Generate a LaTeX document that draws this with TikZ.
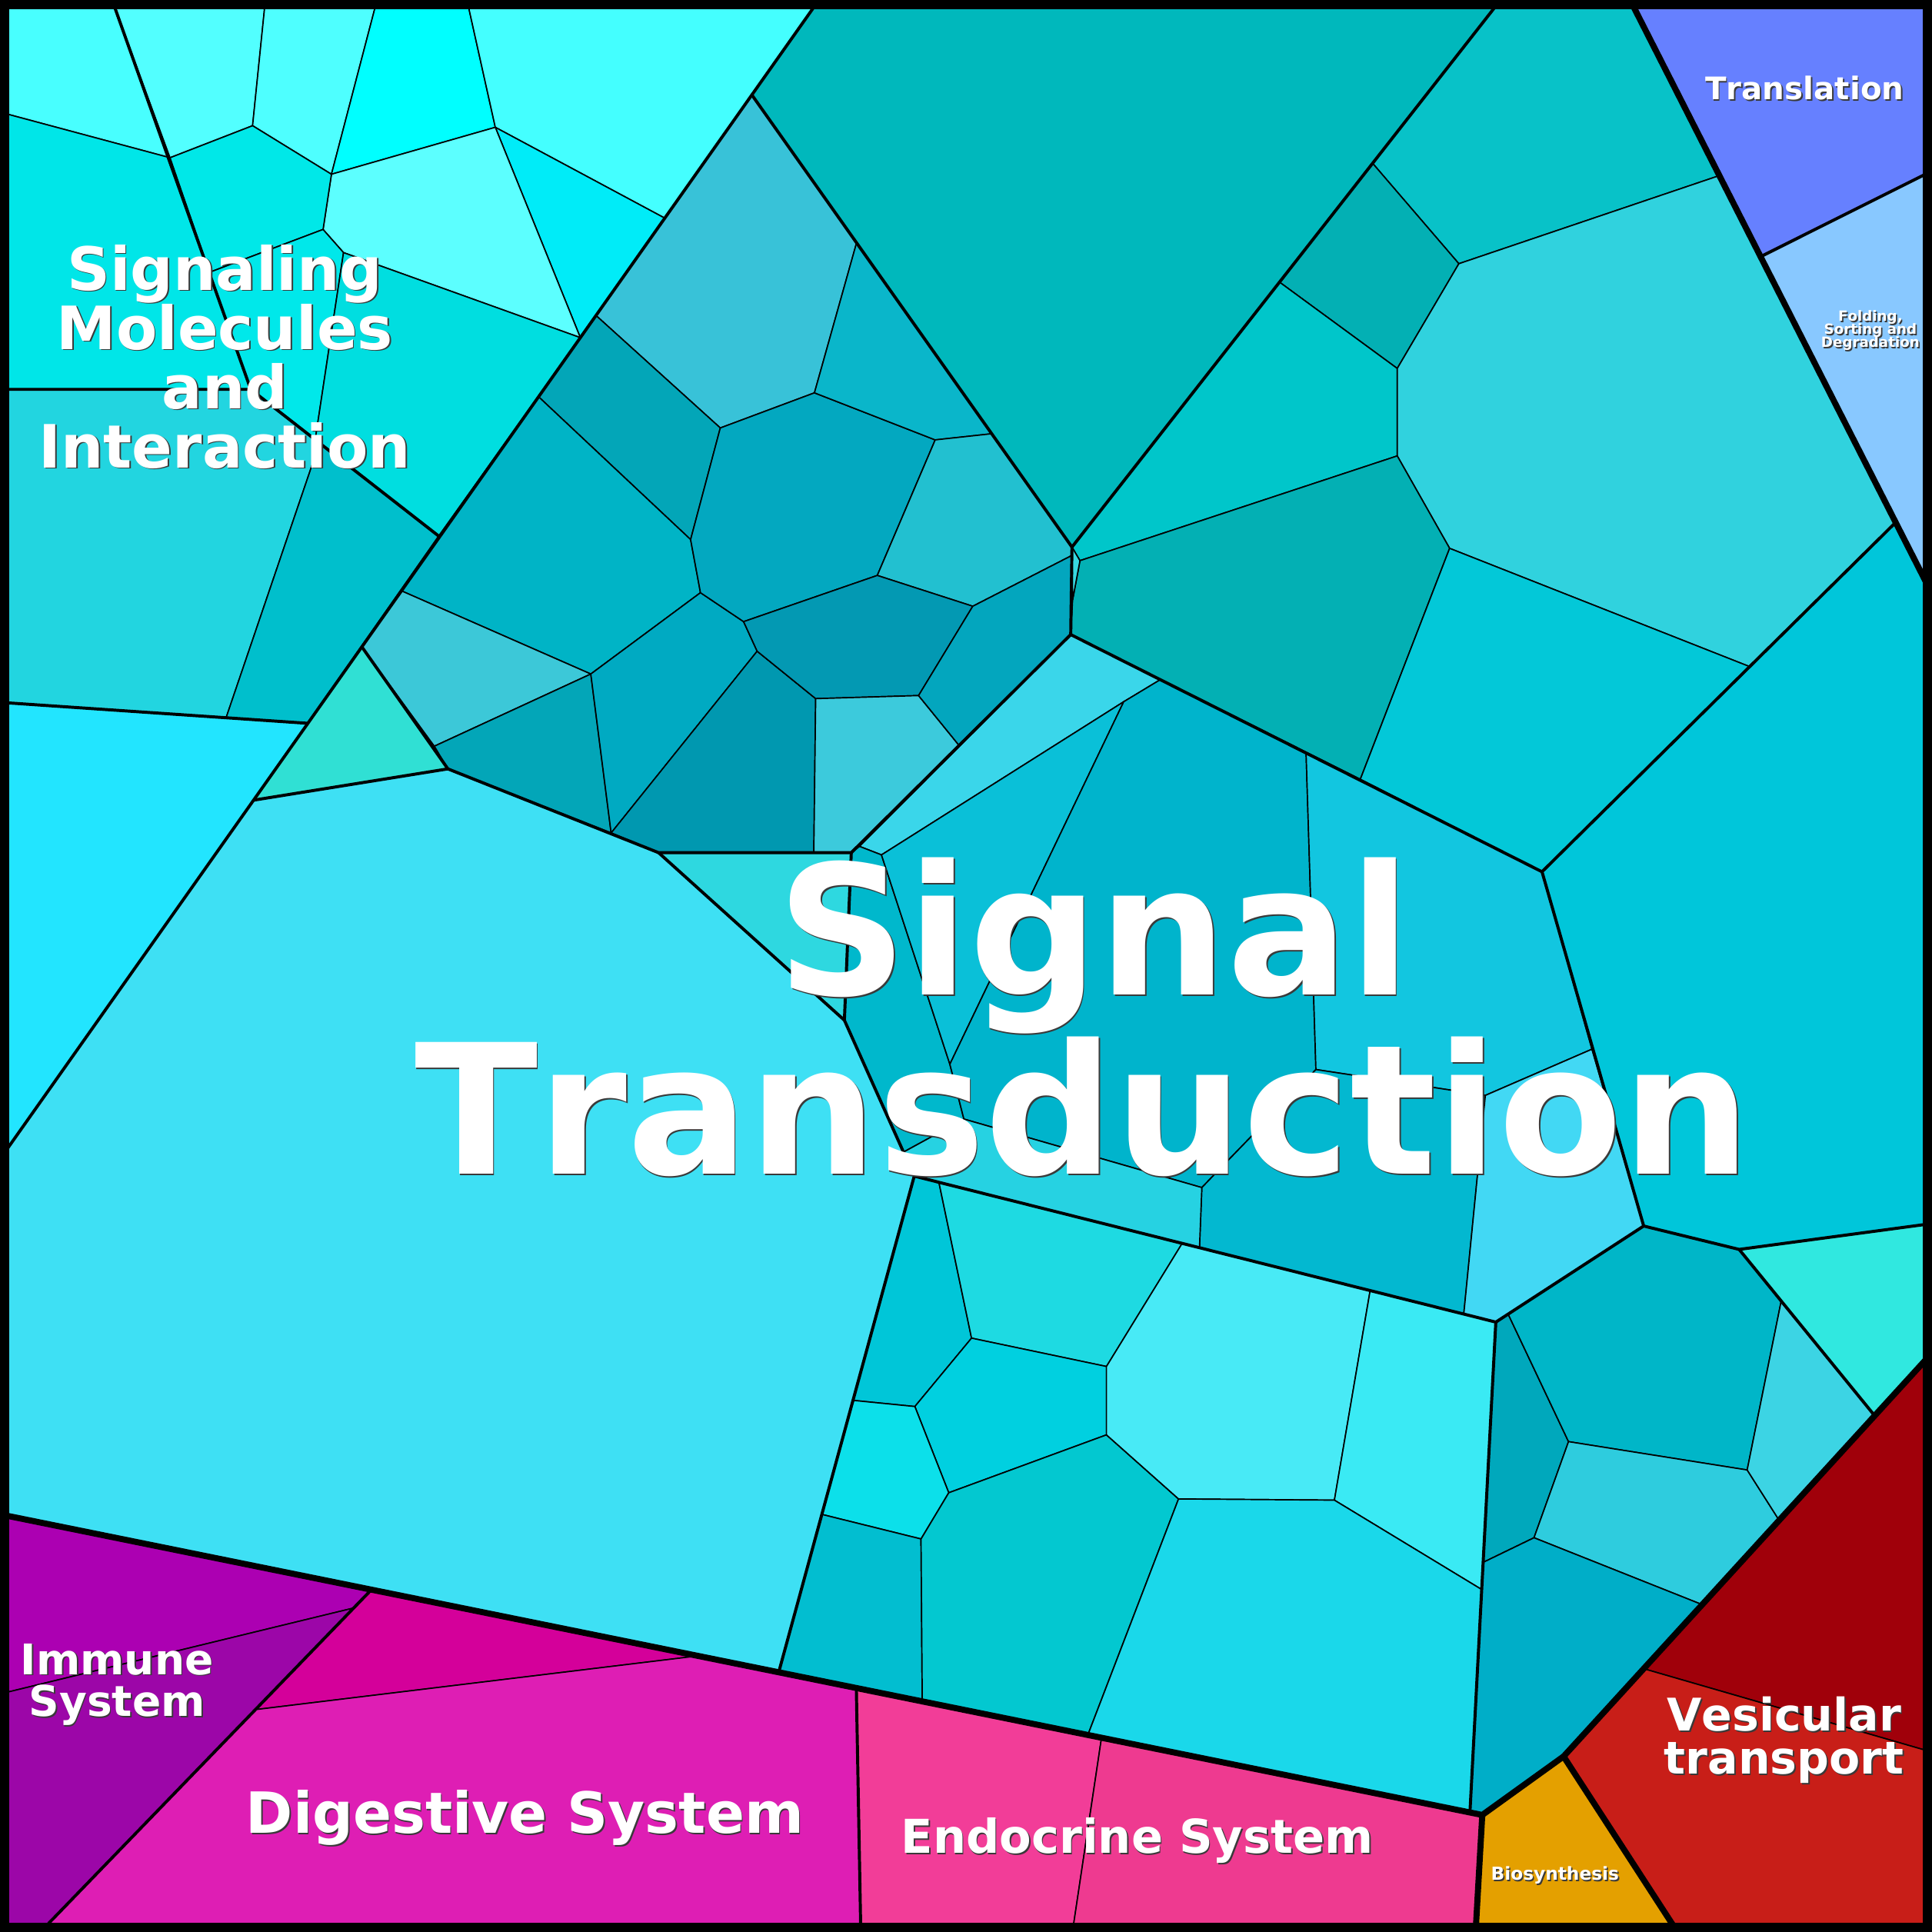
\documentclass[tikz,border=0pt]{standalone}
\usepackage{fontspec}
\setmainfont{DejaVu Sans}[Kerning=Off]
\definecolor{shadowc}{HTML}{3A3A3A}
\definecolor{cP1}{HTML}{48FFFF}\definecolor{cP2}{HTML}{00E6E8}
\definecolor{cQ1}{HTML}{52FFFF}\definecolor{cQ2}{HTML}{4EFFFF}
\definecolor{cQ3}{HTML}{00FFFF}\definecolor{cQ4}{HTML}{44FFFF}
\definecolor{cQ5}{HTML}{00ECF8}\definecolor{cQ6}{HTML}{5CFFFF}
\definecolor{cQ7}{HTML}{00E8E8}\definecolor{cQ8}{HTML}{00E8EA}
\definecolor{cQ9}{HTML}{00DEE0}\definecolor{cR1}{HTML}{22D5E0}
\definecolor{cR2}{HTML}{00BFCC}\definecolor{cR3}{HTML}{22E5FF}
\definecolor{cT1}{HTML}{00B8BC}\definecolor{cT2}{HTML}{38C2D8}
\definecolor{cT3}{HTML}{03A6B8}\definecolor{cT4}{HTML}{00B4C6}
\definecolor{cT5}{HTML}{3CC8D8}\definecolor{cGR}{HTML}{30E0D4}
\definecolor{cT6}{HTML}{03A6B8}\definecolor{cT7}{HTML}{00AAC2}
\definecolor{cT8}{HTML}{0098B0}\definecolor{cT9}{HTML}{03A8C0}
\definecolor{cT10}{HTML}{0AB6CA}\definecolor{cT11}{HTML}{22C0D0}
\definecolor{cT12}{HTML}{0399B3}\definecolor{cT13}{HTML}{3CCADC}
\definecolor{cT14}{HTML}{03A6BE}
\definecolor{cRR1}{HTML}{08C2C8}\definecolor{cRR2}{HTML}{03B0B4}
\definecolor{cRR3}{HTML}{00C6CA}\definecolor{cRR4}{HTML}{30D2DE}
\definecolor{cRR5}{HTML}{03B0B4}\definecolor{cSLV}{HTML}{38D8E0}
\definecolor{cRR6}{HTML}{03C8D8}\definecolor{cRR7}{HTML}{00C6DA}
\definecolor{cBIG}{HTML}{3EE0F4}\definecolor{cTQ}{HTML}{2ED8E0}
\definecolor{cA}{HTML}{3AD6EA}\definecolor{cV}{HTML}{0AC0D8}
\definecolor{cS}{HTML}{00B8CC}\definecolor{cU}{HTML}{00B4CC}
\definecolor{cW}{HTML}{12C6E0}\definecolor{cX}{HTML}{03B8D0}
\definecolor{cY}{HTML}{42D8F4}\definecolor{cT}{HTML}{26D2E2}
\definecolor{cZ1}{HTML}{00A8BC}\definecolor{cZ2}{HTML}{00B6C8}
\definecolor{cZ3}{HTML}{2ECCDE}\definecolor{cZ4}{HTML}{3CD4E4}
\definecolor{cZ5}{HTML}{30E8E0}\definecolor{cZB}{HTML}{00AEC8}
\definecolor{cL1}{HTML}{00C6D8}\definecolor{cL2}{HTML}{1EDAE2}
\definecolor{cL3}{HTML}{00D0E0}\definecolor{cL4}{HTML}{0CE0EA}
\definecolor{cL5}{HTML}{02BED0}\definecolor{cL6}{HTML}{03C8D0}
\definecolor{cL7}{HTML}{48EAF6}\definecolor{cL8}{HTML}{3AEAF4}
\definecolor{cL9}{HTML}{1AD8EA}
\definecolor{cIM1}{HTML}{AC00B2}\definecolor{cIM2}{HTML}{9C06A8}
\definecolor{cDG1}{HTML}{D4009A}\definecolor{cDG2}{HTML}{DE1EB4}
\definecolor{cEN1}{HTML}{F23D98}\definecolor{cEN2}{HTML}{EE3A90}
\definecolor{cBIO}{HTML}{E4A000}
\definecolor{cVE1}{HTML}{A0000A}\definecolor{cVE2}{HTML}{C81E18}
\definecolor{cTR}{HTML}{6680FF}\definecolor{cFO}{HTML}{88C8FF}
\newcommand{\shd}[1]{\rlap{\kern0.3pt\raisebox{-0.3pt}{\textcolor{shadowc}{#1}}}#1}
\begin{document}
\begin{tikzpicture}[x=0.01cm,y=-0.01cm,
  cell/.style={draw=black,line width=0.3pt,line join=round},
  midl/.style={draw=black,line width=0.7pt,line join=round,line cap=round},
  thkl/.style={draw=black,line width=1.4pt,line join=round,line cap=round},
  lbl/.style={anchor=base,inner sep=0pt,text=white}]
\useasboundingbox (0,0) rectangle (1568,1568);
\clip (0,0) rectangle (1568,1568);
% --- Signaling Molecules and Interaction
\filldraw[cell,fill=cP1] (0,0) -- (91,0) -- (138,128) -- (0,91) -- cycle;
\filldraw[cell,fill=cP2] (0,91) -- (138,128) -- (203.5,316) -- (0,316) -- cycle;
\filldraw[cell,fill=cQ1] (91,0) -- (215.4,0) -- (205,102) -- (138,128) -- cycle;
\filldraw[cell,fill=cQ2] (215.4,0) -- (306,0) -- (269,141.4) -- (205,102) -- cycle;
\filldraw[cell,fill=cQ3] (306,0) -- (379,0) -- (402,103.3) -- (269,141.4) -- cycle;
\filldraw[cell,fill=cQ4] (379,0) -- (664.6,0) -- (539.5,177) -- (402,103.3) -- cycle;
\filldraw[cell,fill=cQ5] (402,103.3) -- (539.5,177) -- (471,274) -- cycle;
\filldraw[cell,fill=cQ6] (269,141.4) -- (402,103.3) -- (471,274) -- (278.8,205) -- (262.2,186.2) -- cycle;
\filldraw[cell,fill=cQ7] (138,128) -- (205,102) -- (269,141.4) -- (262.2,186.2) -- (170,221) -- cycle;
\filldraw[cell,fill=cQ8] (170,221) -- (262.2,186.2) -- (278.8,205) -- (255.8,357) -- (203.5,316) -- cycle;
\filldraw[cell,fill=cQ9] (278.8,205) -- (471,274) -- (356,435) -- (255.8,357) -- cycle;
\filldraw[cell,fill=cR1] (0,316) -- (203.5,316) -- (259.2,360) -- (183.5,582.5) -- (0,570) -- cycle;
\filldraw[cell,fill=cR2] (259.2,360) -- (356,435) -- (249.5,587) -- (183.5,582.5) -- cycle;
\filldraw[cell,fill=cR3] (0,570) -- (249.5,587) -- (0,940.7) -- cycle;
% --- Signal Transduction, upper left group
\filldraw[cell,fill=cT1] (664.6,0) -- (1217.8,0) -- (870,444) -- (610.2,77) -- cycle;
\filldraw[cell,fill=cT2] (610.2,77) -- (695.2,197) -- (661,318.8) -- (584.6,347.3) -- (483.7,256) -- cycle;
\filldraw[cell,fill=cT3] (483.7,256) -- (584.6,347.3) -- (560.5,437.9) -- (437.1,322) -- cycle;
\filldraw[cell,fill=cT4] (437.1,322) -- (560.5,437.9) -- (568.5,481) -- (479.5,547) -- (325.8,479.5) -- cycle;
\filldraw[cell,fill=cT5] (325.8,479.5) -- (479.5,547) -- (352.5,605.6) -- (293.7,525) -- cycle;
\filldraw[cell,fill=cGR] (293.7,525) -- (363.5,624) -- (205.8,649.4) -- cycle;
\filldraw[cell,fill=cT6] (479.5,547) -- (496,676) -- (363.5,624) -- (352.5,605.6) -- cycle;
\filldraw[cell,fill=cT7] (568.5,481) -- (603.5,504.5) -- (614.5,528.5) -- (496,676) -- (479.5,547) -- cycle;
\filldraw[cell,fill=cT8] (614.5,528.5) -- (662,567) -- (660.5,692) -- (534.5,692) -- (496,676) -- cycle;
\filldraw[cell,fill=cT9] (560.5,437.9) -- (584.6,347.3) -- (661,318.8) -- (759,357) -- (712,467) -- (603.5,504.5) -- (568.5,481) -- cycle;
\filldraw[cell,fill=cT10] (661,318.8) -- (695.2,197) -- (805,352) -- (759,357) -- cycle;
\filldraw[cell,fill=cT11] (759,357) -- (805,352) -- (870,444) -- (869.5,451) -- (789.5,492) -- (712,467) -- cycle;
\filldraw[cell,fill=cT12] (603.5,504.5) -- (712,467) -- (789.5,492) -- (745.5,564.5) -- (662,567) -- (614.5,528.5) -- cycle;
\filldraw[cell,fill=cT13] (662,567) -- (745.5,564.5) -- (778,604.5) -- (690.9,692) -- (660.5,692) -- cycle;
\filldraw[cell,fill=cT14] (789.5,492) -- (869.5,451) -- (869,515) -- (778,604.5) -- (745.5,564.5) -- cycle;
% --- upper right group
\filldraw[cell,fill=cRR1] (1217.8,0) -- (1323,0) -- (1395.4,142.5) -- (1184,214) -- (1114,132.5) -- cycle;
\filldraw[cell,fill=cRR2] (1114,132.5) -- (1184,214) -- (1134,299) -- (1038.5,229) -- cycle;
\filldraw[cell,fill=cRR3] (1038.5,229) -- (1134,299) -- (1134,370) -- (876.5,455) -- (870,444) -- cycle;
\filldraw[cell,fill=cRR4] (1184,214) -- (1395.4,142.5) -- (1538.5,424) -- (1420,541) -- (1176.5,445) -- (1134,370) -- (1134,299) -- cycle;
\filldraw[cell,fill=cRR5] (876.5,455) -- (1134,370) -- (1176.5,445) -- (1104,632.5) -- (869,515) -- (870.5,487) -- cycle;
\filldraw[cell,fill=cSLV] (870,444) -- (876.5,455) -- (870.5,487) -- cycle;
\filldraw[cell,fill=cRR6] (1176.5,445) -- (1420,541) -- (1251.5,707.5) -- (1104,632.5) -- cycle;
\filldraw[cell,fill=cRR7] (1420,541) -- (1538.5,424) -- (1568,482) -- (1568,993) -- (1411.5,1014) -- (1334,995) -- (1292,851.5) -- (1251.5,707.5) -- cycle;
% --- centre
\filldraw[cell,fill=cBIG] (205.8,649.4) -- (363.5,624) -- (534.5,692) -- (685.3,828) -- (742,954.5) -- (632,1357.2) -- (0,1229) -- (0,940.7) -- cycle;
\filldraw[cell,fill=cTQ] (534.5,692) -- (690.9,692) -- (685.3,828) -- cycle;
\filldraw[cell,fill=cA] (869,515) -- (942,551.4) -- (912,569.5) -- (715.4,693.8) -- (697.6,686.9) -- cycle;
\filldraw[cell,fill=cS] (690.9,692) -- (697.6,686.9) -- (715.4,693.8) -- (770.9,863.7) -- (782.3,908.2) -- (733.3,935) -- (685.3,828) -- cycle;
\filldraw[cell,fill=cV] (912,569.5) -- (715.4,693.8) -- (770.9,863.7) -- cycle;
\filldraw[cell,fill=cU] (942,551.4) -- (1060,610.5) -- (1068,868) -- (975.4,963.8) -- (782.3,908.2) -- (770.9,863.7) -- (912,569.5) -- cycle;
\filldraw[cell,fill=cW] (1060,610.5) -- (1104,632.5) -- (1251.5,707.5) -- (1292,851.5) -- (1205.5,889) -- (1068,868) -- cycle;
\filldraw[cell,fill=cX] (1068,868) -- (1205.5,889) -- (1188,1066.4) -- (973.5,1012.5) -- (975.4,963.8) -- cycle;
\filldraw[cell,fill=cY] (1205.5,889) -- (1292,851.5) -- (1334,995) -- (1214,1073) -- (1188,1066.4) -- cycle;
\filldraw[cell,fill=cT] (733.3,935) -- (782.3,908.2) -- (975.4,963.8) -- (973.5,1012.5) -- (742,954.5) -- cycle;
% --- lower right group
\filldraw[cell,fill=cZ1] (1214,1073) -- (1224,1066.5) -- (1273,1170) -- (1245,1248) -- (1203.7,1268) -- cycle;
\filldraw[cell,fill=cZ2] (1224,1066.5) -- (1334,995) -- (1411.5,1014) -- (1445.5,1056.5) -- (1418,1193) -- (1273,1170) -- cycle;
\filldraw[cell,fill=cZ3] (1273,1170) -- (1418,1193) -- (1444,1233.9) -- (1381.5,1302.3) -- (1245,1248) -- cycle;
\filldraw[cell,fill=cZ4] (1445.5,1056.5) -- (1521.5,1149) -- (1444,1233.9) -- (1418,1193) -- cycle;
\filldraw[cell,fill=cZ5] (1411.5,1014) -- (1568,993) -- (1568,1098) -- (1521.5,1149) -- cycle;
\filldraw[cell,fill=cZB] (1203.7,1268) -- (1245,1248) -- (1381.5,1302.3) -- (1269,1425.5) -- (1203,1473) -- (1193,1470.9) -- cycle;
% --- lower middle group
\filldraw[cell,fill=cL1] (742,954.5) -- (762,959.5) -- (788.5,1086) -- (742.5,1141.5) -- (692.3,1136.5) -- cycle;
\filldraw[cell,fill=cL2] (762,959.5) -- (959.5,1009) -- (898,1109) -- (788.5,1086) -- cycle;
\filldraw[cell,fill=cL3] (788.5,1086) -- (898,1109) -- (898,1164.5) -- (770,1211.5) -- (742.5,1141.5) -- cycle;
\filldraw[cell,fill=cL4] (692.3,1136.5) -- (742.5,1141.5) -- (770,1211.5) -- (747.5,1249) -- (666.8,1229) -- cycle;
\filldraw[cell,fill=cL5] (666.8,1229) -- (747.5,1249) -- (748.5,1380.8) -- (632,1357.2) -- cycle;
\filldraw[cell,fill=cL6] (770,1211.5) -- (898,1164.5) -- (956.5,1216.5) -- (883,1407.8) -- (748.5,1380.8) -- (747.5,1249) -- cycle;
\filldraw[cell,fill=cL7] (898,1109) -- (959.5,1009) -- (1112,1047.4) -- (1083,1217.5) -- (956.5,1216.5) -- (898,1164.5) -- cycle;
\filldraw[cell,fill=cL8] (1112,1047.4) -- (1214,1073) -- (1202.5,1290) -- (1083,1217.5) -- cycle;
\filldraw[cell,fill=cL9] (956.5,1216.5) -- (1083,1217.5) -- (1202.5,1290) -- (1193,1470.9) -- (883,1407.8) -- cycle;
% --- Organismal systems and others
\filldraw[cell,fill=cIM1] (0,1229) -- (301.5,1290.1) -- (287.1,1305) -- (0,1374.8) -- cycle;
\filldraw[cell,fill=cIM2] (0,1374.8) -- (287.1,1305) -- (32.7,1568) -- (0,1568) -- cycle;
\filldraw[cell,fill=cDG1] (301.5,1290.1) -- (566.5,1343.9) -- (207.3,1387.5) -- cycle;
\filldraw[cell,fill=cDG2] (207.3,1387.5) -- (566.5,1343.9) -- (695,1369.9) -- (698.6,1568) -- (32.7,1568) -- cycle;
\filldraw[cell,fill=cEN1] (695,1369.9) -- (894,1410.3) -- (870.4,1568) -- (698.6,1568) -- cycle;
\filldraw[cell,fill=cEN2] (894,1410.3) -- (1203,1473) -- (1197.6,1568) -- (870.4,1568) -- cycle;
\filldraw[cell,fill=cBIO] (1203,1473) -- (1269,1425.5) -- (1361.4,1568) -- (1197.6,1568) -- cycle;
\filldraw[cell,fill=cVE1] (1334,1354.3) -- (1568,1098) -- (1568,1422) -- cycle;
\filldraw[cell,fill=cVE2] (1269,1425.5) -- (1334,1354.3) -- (1568,1422) -- (1568,1568) -- (1361.4,1568) -- cycle;
\filldraw[cell,fill=cTR] (1323,0) -- (1568,0) -- (1568,138.7) -- (1429.5,208) -- cycle;
\filldraw[cell,fill=cFO] (1429.5,208) -- (1568,138.7) -- (1568,482) -- cycle;
% --- medium borders
\draw[midl] (664.6,0) -- (0,940.7);
\draw[midl] (0,316) -- (203.5,316) -- (356,435);
\draw[midl] (0,570) -- (249.5,587);
\draw[midl] (91,0) -- (203.5,316);
\draw[midl] (610.2,77) -- (870,444) -- (1217.8,0);
\draw[midl] (870,444) -- (869,515) -- (1251.5,707.5) -- (1538.5,424);
\draw[midl] (869,515) -- (690.9,692) -- (534.5,692) -- (363.5,624) -- (205.8,649.4);
\draw[midl] (363.5,624) -- (293.7,525);
\draw[midl] (690.9,692) -- (685.3,828);
\draw[midl] (534.5,692) -- (685.3,828) -- (742,954.5) -- (632,1357.2);
\draw[midl] (742,954.5) -- (1214,1073) -- (1193,1470.9);
\draw[midl] (1214,1073) -- (1334,995) -- (1251.5,707.5);
\draw[midl] (1334,995) -- (1411.5,1014) -- (1568,993);
\draw[midl] (1411.5,1014) -- (1521.5,1149);
\draw[midl] (1429.5,208) -- (1568,138.7);
\draw[midl] (301.5,1290.1) -- (32.7,1568);
\draw[midl] (695,1369.9) -- (698.6,1568);
% --- thick borders
\draw[thkl] (0,1229) -- (1203,1473) -- (1269,1425.5) -- (1568,1098);
\draw[thkl] (1203,1473) -- (1197.6,1568);
\draw[thkl] (1269,1425.5) -- (1361.4,1568);
\draw[thkl] (1323,0) -- (1568,482);
\draw[line width=4.3pt] (0,0) rectangle (1568,1568);
% --- labels
\node[lbl,font=\bfseries\fontsize{41.7}{41.3}\selectfont] (st1) at (888,807.5) {\shd{Signal}};
\node[lbl,font=\bfseries\fontsize{41.7}{41.3}\selectfont] (st2) at (879,953) {\shd{Transduction}};
\node[lbl,font=\bfseries\fontsize{13.8}{13.6}\selectfont] (sm1) at (182.5,235.5) {\shd{Signaling}};
\node[lbl,font=\bfseries\fontsize{13.8}{13.6}\selectfont] (sm2) at (182.5,283.5) {\shd{Molecules}};
\node[lbl,font=\bfseries\fontsize{13.8}{13.6}\selectfont] (sm3) at (182.5,331.5) {\shd{and}};
\node[lbl,font=\bfseries\fontsize{13.8}{13.6}\selectfont] (sm4) at (182.5,379.5) {\shd{Interaction}};
\node[lbl,font=\bfseries\fontsize{7.17}{7}\selectfont] (tr) at (1464.6,81) {\shd{Translation}};
\node[lbl,font=\bfseries\fontsize{3.24}{3}\selectfont] (fo1) at (1518,260.5) {\shd{Folding,}};
\node[lbl,font=\bfseries\fontsize{3.24}{3}\selectfont] (fo2) at (1518,271.5) {\shd{Sorting and}};
\node[lbl,font=\bfseries\fontsize{3.24}{3}\selectfont] (fo3) at (1518,282) {\shd{Degradation}};
\node[lbl,font=\bfseries\fontsize{9.76}{9.7}\selectfont] (im1) at (95,1359) {\shd{Immune}};
\node[lbl,font=\bfseries\fontsize{9.76}{9.7}\selectfont] (im2) at (95,1393) {\shd{System}};
\node[lbl,font=\bfseries\fontsize{13.1}{13}\selectfont] (dg) at (426,1488) {\shd{Digestive System}};
\node[lbl,font=\bfseries\fontsize{10.76}{10.7}\selectfont] (en) at (923,1504) {\shd{Endocrine System}};
\node[lbl,font=\bfseries\fontsize{10.38}{10}\selectfont] (ve1) at (1448,1405) {\shd{Vesicular}};
\node[lbl,font=\bfseries\fontsize{10.38}{10}\selectfont] (ve2) at (1448,1440) {\shd{transport}};
\node[lbl,font=\bfseries\fontsize{4.13}{4}\selectfont] (bio) at (1262,1526) {\shd{Biosynthesis}};
\end{tikzpicture}
\end{document}
